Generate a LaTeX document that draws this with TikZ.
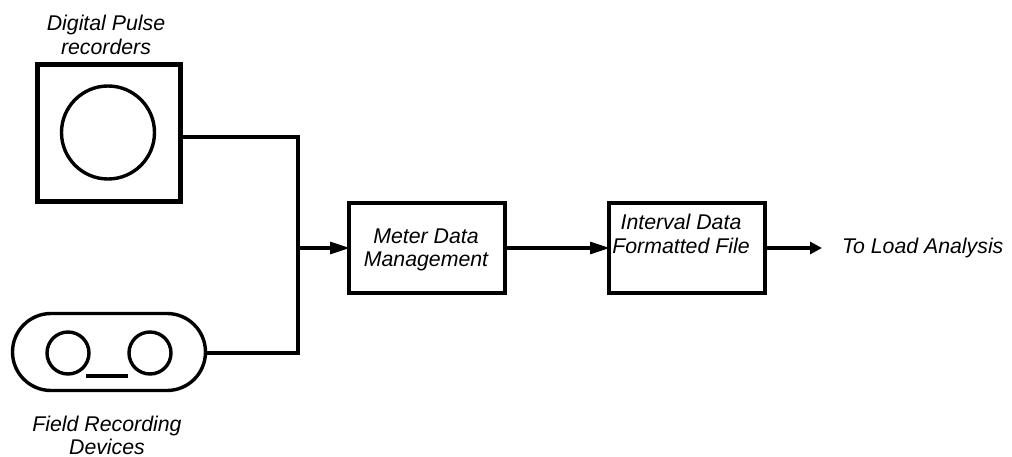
\documentclass[tikz,border=0pt]{standalone}
\usepackage{fontspec}
\setmainfont{Liberation Sans}
\usetikzlibrary{arrows.meta,shapes.misc}
\tikzset{
  heavybox/.style={draw=black,line width=4.6pt,rectangle,inner sep=0pt,outer sep=0pt},
  ring/.style={draw=black,line width=3.4pt,circle,inner sep=0pt,outer sep=0pt},
  capsule/.style={draw=black,line width=3.4pt,rounded rectangle,inner sep=0pt,outer sep=0pt},
  wire/.style={draw=black,line width=3.2pt},
  flow/.style={wire,-{Triangle[length=20pt,width=12pt]},shorten >=-1pt},
  shortflow/.style={wire,-{Triangle[length=12pt,width=12pt]}},
  caption/.style={inner sep=0pt,outer sep=0pt,align=center,font=\fontsize{21.3}{23.7}\selectfont\itshape}
}
\begin{document}
\begin{tikzpicture}[x=1pt,y=-1pt]
\useasboundingbox (0,0) rectangle (1012,457);
% Digital pulse recorder
\node[heavybox,minimum width=143pt,minimum height=137pt] (dpr) at (109,133) {};
\node[ring,minimum size=93pt] (dprdial) at (108,132.5) {};
\node[caption] (dprlabel) at (106,35) {Digital Pulse\\recorders};
% Field recording device
\node[capsule,minimum width=193pt,minimum height=77pt] (frd) at (109,352) {};
\node[ring,minimum size=42pt] (reelL) at (68,353) {};
\node[ring,minimum size=42pt] (reelR) at (150,353) {};
\coordinate (barL) at (86,376);
\coordinate (barR) at (128,376);
\draw[line width=3.2pt] (barL) -- (barR);
\node[caption] (frdlabel) at (107,435.5) {Field Recording\\Devices};
% Process boxes
\node[heavybox,minimum width=156pt,minimum height=90pt] (mdm) at (427,248) {};
\node[caption] (mdmlabel) at (426,250) {Meter Data\\Management};
\node[heavybox,minimum width=156pt,minimum height=90pt] (idf) at (687,248) {};
\node[caption] (idflabel) at (681,234) {Interval Data\\Formatted File};
\node[caption,anchor=west] (out) at (842,248) {To Load Analysis};
% Connectors
\coordinate (dprout) at ([yshift=-4pt]dpr.east);
\coordinate (frdout) at (frd.east |- reelL.center);
\coordinate (corner) at (298,248);
\coordinate (stub) at (296,248);
\draw[wire,line cap=butt] (dprout) -| (corner) |- (frdout);
\draw[flow] (stub) -- (mdm.west);
\draw[flow] (mdm.east) -- (idf.west);
\coordinate (outend) at (822,248);
\draw[shortflow] (idf.east) -- (outend);
\end{tikzpicture}
\end{document}
